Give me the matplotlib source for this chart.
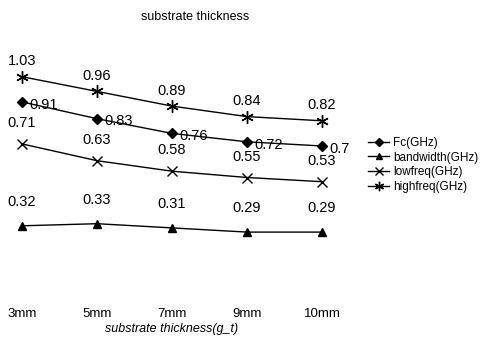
import matplotlib
matplotlib.use("Agg")
import matplotlib.pyplot as plt

plt.rcParams['font.family'] = ['Liberation Sans', 'DejaVu Sans']

categories = ["3mm", "5mm", "7mm", "9mm", "10mm"]
fc = [0.91, 0.83, 0.76, 0.72, 0.70]
bandwidth = [0.32, 0.33, 0.31, 0.29, 0.29]
lowfreq = [0.71, 0.63, 0.58, 0.55, 0.53]
highfreq = [1.03, 0.96, 0.89, 0.84, 0.82]

fig = plt.figure(figsize=(4.95, 3.38), dpi=100)
ax = fig.add_axes([7 / 495, 45 / 338, 330 / 495, 252 / 338])
xs = range(len(categories))

ax.plot(xs, fc, color="black", lw=1, marker="D", ms=5, label="Fc(GHz)")
ax.plot(xs, bandwidth, color="black", lw=1, marker="^", ms=6, label="bandwidth(GHz)")
ax.plot(xs, lowfreq, color="black", lw=1, marker="x", ms=7, mew=1, label="lowfreq(GHz)")
ax.plot(xs, highfreq, color="black", lw=1, marker=(6, 2, 0), ms=9, mew=1, label="highfreq(GHz)")

# data labels
for x, v in zip(xs, fc):
    ax.annotate(f"{v:g}", (x, v), xytext=(5, -2), textcoords="offset points",
                ha="left", va="center", fontsize=10.5)
for x, v in zip(xs, bandwidth):
    ax.annotate(f"{v:g}", (x, v), xytext=(0, 12), textcoords="offset points",
                ha="center", va="bottom", fontsize=10.5)
for x, v in zip(xs, lowfreq):
    ax.annotate(f"{v:g}", (x, v), xytext=(0, 10), textcoords="offset points",
                ha="center", va="bottom", fontsize=10.5)
for x, v in zip(xs, highfreq):
    ax.annotate(f"{v:g}", (x, v), xytext=(0, 6), textcoords="offset points",
                ha="center", va="bottom", fontsize=10.5)

ax.set_xlim(-0.2, 4.2)
ax.set_ylim(0, 1.2)
ax.set_xticks(list(xs))
ax.set_xticklabels(categories, fontsize=9.5)
ax.tick_params(length=0, pad=11)
ax.set_yticks([])
for s in ax.spines.values():
    s.set_visible(False)
ax.set_xlabel("substrate thickness(g_t)", fontsize=9, style="italic", labelpad=2)

fig.text(195 / 495, 1 - 17 / 338, "substrate thickness", ha="center", va="center", fontsize=9)

fig.legend(loc="upper left", bbox_to_anchor=(368 / 495, 1 - 137 / 338), frameon=False,
           fontsize=8.5, handlelength=1.8, handletextpad=0.3, labelspacing=0.22,
           markerscale=0.75, borderaxespad=0, borderpad=0)

fig.savefig("out.png", dpi=100)
